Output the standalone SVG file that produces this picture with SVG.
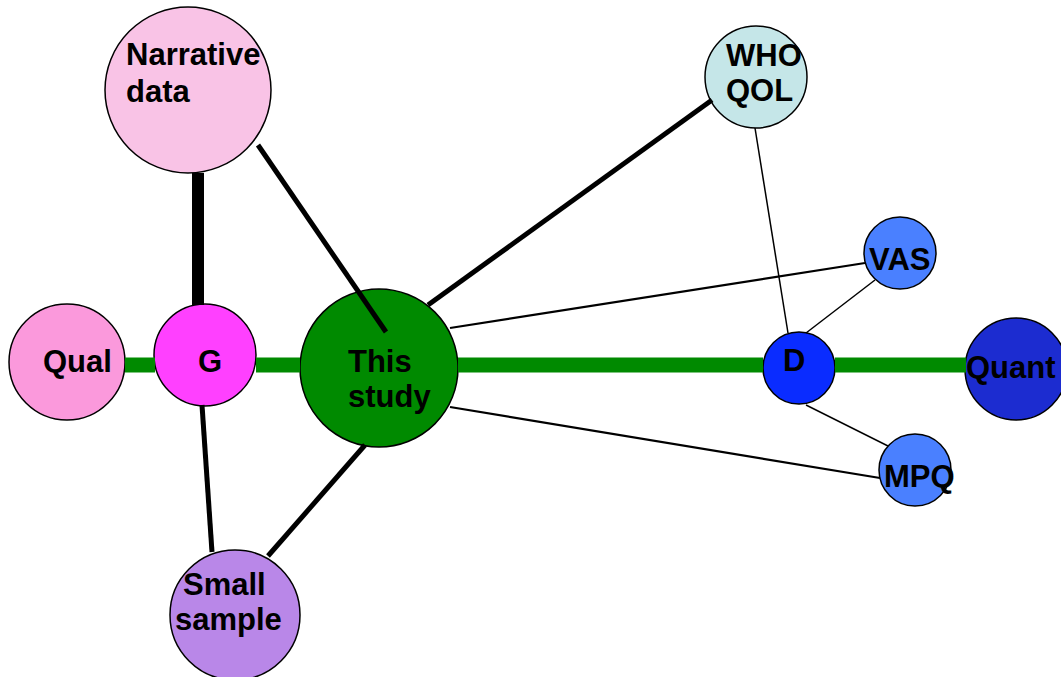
<svg xmlns="http://www.w3.org/2000/svg" width="1061" height="677" viewBox="0 0 1061 677">
  <style>
    .node circle { stroke: #000; stroke-width: 1.5; }
    .node text { font-family: "Liberation Sans", Arial, sans-serif; font-weight: bold; font-size: 31px; fill: #000; }
    .edge { stroke: #000; fill: none; stroke-linecap: butt; }
    .main { stroke: #008a00; stroke-width: 15; }
    .w1 { stroke-width: 1.5; }
    .w2 { stroke-width: 2.2; }
    .w5 { stroke-width: 5; }
    .w12 { stroke-width: 12; }
  </style>

  <rect width="1061" height="677" fill="#fff"/>

  <!-- nodes -->
  <g id="node-qual" class="node">
    <circle cx="67" cy="362" r="58" fill="#fb99dc"/>
    <text x="43" y="372">Qual</text>
  </g>
  <g id="node-g" class="node">
    <circle cx="205" cy="355" r="51" fill="#ff40ff"/>
    <text x="198" y="372">G</text>
  </g>
  <g id="node-this-study" class="node">
    <circle cx="379" cy="368" r="79" fill="#008a00"/>
    <text x="348" y="372">This</text>
    <text x="348" y="407">study</text>
  </g>
  <g id="node-narrative" class="node">
    <circle cx="188" cy="90" r="83" fill="#f9c3e6"/>
    <text x="126" y="65">Narrative</text>
    <text x="126" y="102">data</text>
  </g>
  <g id="node-small-sample" class="node">
    <circle cx="235" cy="615" r="65" fill="#b987e8"/>
    <text x="183" y="595">Small</text>
    <text x="175" y="630">sample</text>
  </g>
  <g id="node-whoqol" class="node">
    <circle cx="756" cy="77" r="51" fill="#c5e6e8"/>
    <text x="726" y="66">WHO</text>
    <text x="726" y="101">QOL</text>
  </g>
  <g id="node-vas" class="node">
    <circle cx="900" cy="253" r="36" fill="#4a80ff"/>
    <text x="869" y="270">VAS</text>
  </g>
  <g id="node-d" class="node">
    <circle cx="799" cy="368" r="36" fill="#0a2cff"/>
    <text x="783" y="371">D</text>
  </g>
  <g id="node-mpq" class="node">
    <circle cx="915" cy="470" r="36" fill="#4a80ff"/>
    <text x="884" y="487">MPQ</text>
  </g>
  <g id="node-quant" class="node">
    <circle cx="1016" cy="369" r="51" fill="#1c2cd0"/>
    <text x="966" y="378">Quant</text>
  </g>

  <!-- connectors -->
  <g id="connectors">
    <!-- main qualitative-quantitative axis -->
    <line class="main" x1="125" y1="365" x2="155" y2="365"/>
    <line class="main" x1="256" y1="365" x2="300" y2="365"/>
    <line class="main" x1="458" y1="365" x2="763" y2="365"/>
    <line class="main" x1="835" y1="365" x2="966" y2="365"/>

    <line class="edge w12" x1="198" y1="173" x2="198" y2="305"/>
    <line class="edge w5" x1="258" y1="145" x2="386" y2="332"/>
    <line class="edge w5" x1="428" y1="305" x2="712" y2="100"/>
    <line class="edge w5" x1="202" y1="405" x2="212" y2="552"/>
    <line class="edge w5" x1="365" y1="445" x2="268" y2="556"/>
    <line class="edge w2" x1="450" y1="328" x2="865" y2="263"/>
    <line class="edge w2" x1="450" y1="407" x2="880" y2="478"/>
    <line class="edge w1" x1="755" y1="128" x2="788" y2="333"/>
    <line class="edge w1" x1="875" y1="280" x2="806" y2="333"/>
    <line class="edge w1" x1="806" y1="405" x2="888" y2="446"/>
  </g>
</svg>
